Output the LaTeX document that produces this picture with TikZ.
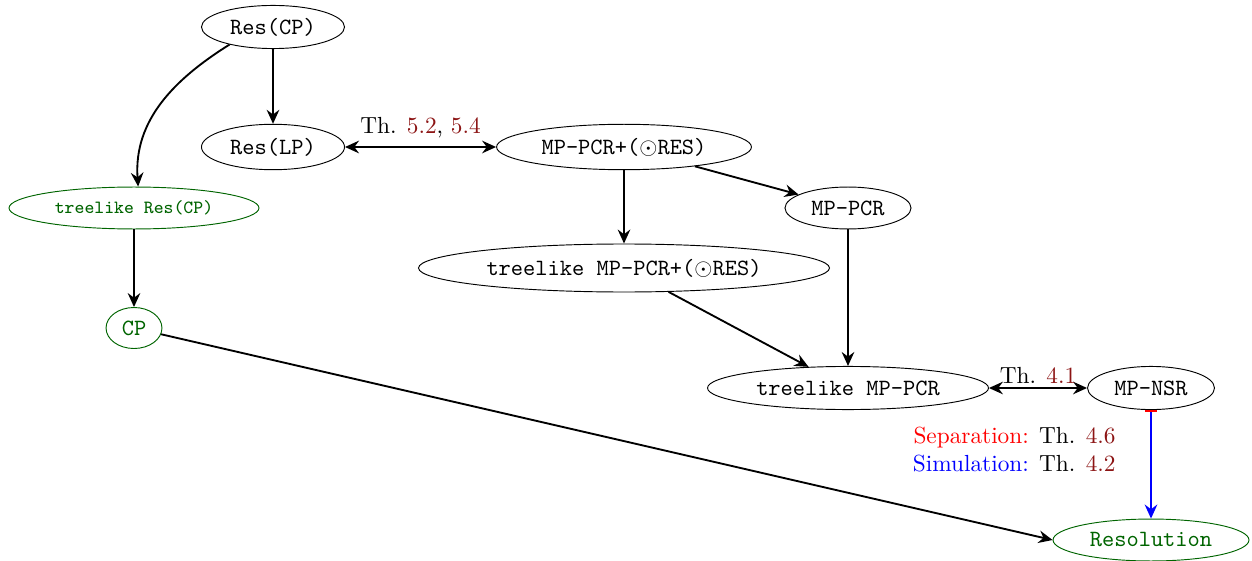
\documentclass[tikz,border=0pt]{standalone}
\usetikzlibrary{arrows.meta,shapes.geometric}
\definecolor{thmred}{RGB}{140,20,20}
\definecolor{tgreen}{RGB}{0,100,0}
\begin{document}
\begin{tikzpicture}[x=0.4292pt, y=-0.4292pt,
  sys/.style={draw, ellipse, inner sep=0pt, font=\ttfamily, line width=0.4pt},
  gsys/.style={sys, draw=tgreen, text=tgreen},
  tip/.style={Stealth[length=6pt, width=5.4pt, inset=2pt]},
  edge/.style={line width=0.8pt, -{Stealth[length=6pt, width=5.4pt, inset=2pt]}},
  dedge/.style={line width=0.8pt, {Stealth[length=6pt, width=5.4pt, inset=2pt]}-{Stealth[length=6pt, width=5.4pt, inset=2pt]}},
  thm/.style={font=\rmfamily}]
\useasboundingbox (0,0) rectangle (1252,561);

% proof systems
\node[sys, minimum width=61.4pt, minimum height=18.5pt] (rescp) at (273,27) {Res(CP)};
\node[sys, minimum width=61.4pt, minimum height=19.5pt] (reslp) at (273,147) {Res(LP)};
\node[gsys, font=\ttfamily\footnotesize, minimum width=107.3pt, minimum height=18pt] (trescp) at (134,208) {treelike Res(CP)};
\node[gsys, minimum width=24pt, minimum height=17.6pt] (cp) at (134,328) {CP};
\node[sys, minimum width=109.4pt, minimum height=19.5pt] (mppcrp) at (624,147) {MP-PCR+($\odot$RES)};
\node[sys, minimum width=54.1pt, minimum height=18pt] (mppcr) at (848,208) {MP-PCR};
\node[sys, minimum width=176.4pt, minimum height=20.6pt] (tmppcrp) at (624,268) {treelike MP-PCR+($\odot$RES)};
\node[sys, minimum width=120.6pt, minimum height=18.5pt] (tmppcr) at (848,388) {treelike MP-PCR};
\node[sys, minimum width=54.5pt, minimum height=18.5pt] (mpnsr) at (1151,388) {MP-NSR};
\node[gsys, minimum width=84.1pt, minimum height=18pt] (resol) at (1151,540) {Resolution};

% simulations
\draw[edge] (rescp.-158) to[out=-148, in=94] (trescp.79);
\draw[edge] (rescp) -- (reslp);
\draw[dedge] (reslp) -- node[above, thm] {Th. \textcolor{thmred}{5.2}, \textcolor{thmred}{5.4}} (mppcrp);
\draw[edge] (mppcrp) -- (mppcr);
\draw[edge] (mppcrp) -- (tmppcrp);
\draw[edge] (tmppcrp) -- (tmppcr);
\draw[edge] (mppcr) -- (tmppcr);
\draw[edge] (trescp) -- (cp);
\draw[edge] (cp) -- (resol.west);
\draw[dedge] (tmppcr) -- node[above, thm, inner sep=1.5pt] {Th. \textcolor{thmred}{4.1}} (mpnsr);

% separation and simulation towards resolution
\draw[blue, line width=0.9pt, {Bar[red, width=5.2pt, line width=0.9pt]}-{Stealth[length=6pt, width=5.4pt, inset=2pt]}] (mpnsr) -- (resol);
\node[thm, anchor=east, align=right, inner sep=0pt] (sepsim) at (1116,450)
  {\textcolor{red}{Separation:} Th. \textcolor{thmred}{4.6}\\
   \textcolor{blue}{Simulation:} Th. \textcolor{thmred}{4.2}};
\end{tikzpicture}
\end{document}
